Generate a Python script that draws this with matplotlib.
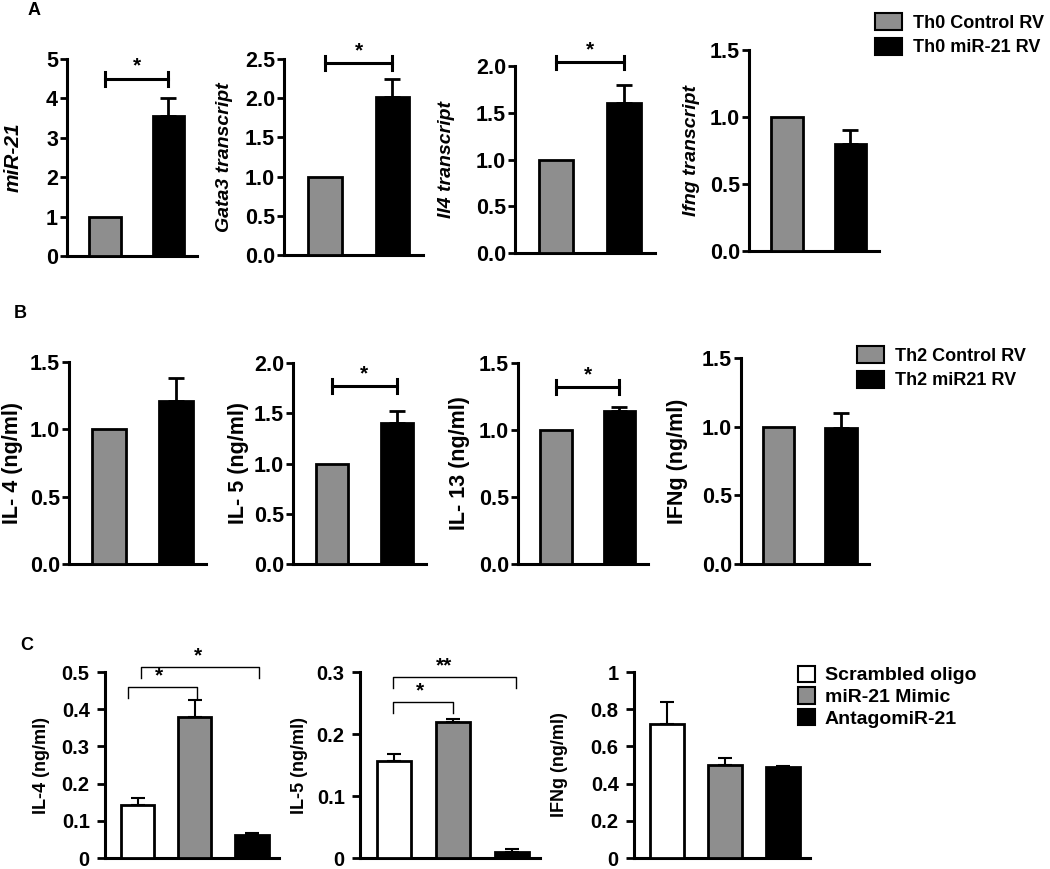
import numpy as np
import matplotlib
matplotlib.use("Agg")
import matplotlib.pyplot as plt
from matplotlib.patches import Patch

plt.rcParams['font.family'] = ['Liberation Sans', 'DejaVu Sans']
plt.rcParams['font.weight'] = 'bold'
plt.rcParams['axes.labelweight'] = 'bold'

W, H = 1050, 869
GRAY = '#8e8e8e'

# ---- panel A data ----
a_labels = ['miR-21', 'Gata3 transcript', 'Il4 transcript', 'Ifng transcript']
a_ctrl = [1.0, 1.0, 1.0, 1.0]
a_mir = [3.55, 2.02, 1.60, 0.80]
a_err = [0.45, 0.23, 0.20, 0.10]
a_ymax = [5, 2.5, 2.0, 1.5]
a_ticks = [[0, 1, 2, 3, 4, 5], [0, 0.5, 1.0, 1.5, 2.0, 2.5], [0, 0.5, 1.0, 1.5, 2.0], [0, 0.5, 1.0, 1.5]]
a_ticklabels = [['0', '1', '2', '3', '4', '5'], ['0.0', '0.5', '1.0', '1.5', '2.0', '2.5'],
                ['0.0', '0.5', '1.0', '1.5', '2.0'], ['0.0', '0.5', '1.0', '1.5']]
a_sig = [4.5, 2.45, 2.04, None]
a_legend = ['Th0 Control RV', 'Th0 miR-21 RV']

# ---- panel B data ----
b_labels = ['IL- 4 (ng/ml)', 'IL- 5 (ng/ml)', 'IL- 13 (ng/ml)', 'IFNg (ng/ml)']
b_ctrl = [1.0, 1.0, 1.0, 1.0]
b_mir = [1.21, 1.40, 1.14, 0.99]
b_err = [0.17, 0.12, 0.03, 0.11]
b_ymax = [1.5, 2.0, 1.5, 1.5]
b_ticks = [[0, 0.5, 1.0, 1.5], [0, 0.5, 1.0, 1.5, 2.0], [0, 0.5, 1.0, 1.5], [0, 0.5, 1.0, 1.5]]
b_sig = [None, 1.77, 1.32, None]
b_legend = ['Th2 Control RV', 'Th2 miR21 RV']

# ---- panel C data ----
c_labels = ['IL-4 (ng/ml)', 'IL-5 (ng/ml)', 'IFNg (ng/ml)']
c_vals = [[0.143, 0.38, 0.063], [0.157, 0.219, 0.009], [0.72, 0.50, 0.49]]
c_errs = [[0.017, 0.045, 0.005], [0.010, 0.005, 0.006], [0.12, 0.04, 0.005]]
c_ymax = [0.5, 0.3, 1.0]
c_ticks = [[0, 0.1, 0.2, 0.3, 0.4, 0.5], [0, 0.1, 0.2, 0.3], [0, 0.2, 0.4, 0.6, 0.8, 1.0]]
c_ticklabels = [['0', '0.1', '0.2', '0.3', '0.4', '0.5'], ['0', '0.1', '0.2', '0.3'],
                ['0', '0.2', '0.4', '0.6', '0.8', '1']]
# brackets: (x_left, x_right, y, text, text_x)
c_brackets = [[(-0.17, 1.03, 0.46, '*', 0.38), (0.06, 2.12, 0.513, '*', 1.05)],
              [(-0.02, 1.0, 0.252, '*', 0.45), (-0.02, 2.06, 0.292, '**', 0.85)],
              []]
c_legend = ['Scrambled oligo', 'miR-21 Mimic', 'AntagomiR-21']
c_colors = ['white', GRAY, 'black']

# axes boxes in pixels: (x_axis, x_end, y_top, y_zero), label right edge px, label size
a_boxes = [(67, 197, 59, 256), (284, 423, 59, 255), (515, 655, 66, 253), (749, 879, 50, 251)]
a_labx = [23, 233, 455, 700]
a_lsize = [15, 14, 14, 14]
b_boxes = [(69, 206, 362, 564), (293, 426, 363, 564), (518, 648, 363, 564), (741, 869, 358, 564)]
b_labx = [23, 249, 470, 688]
c_boxes = [(105, 279, 672, 858), (360, 540, 672, 858), (634, 810, 672, 858)]
c_labx = [50, 308, 568]

fig = plt.figure(figsize=(W / 100, H / 100), dpi=100)


def make_ax(box, labx, ylabel, italic=False, lsize=12, pad=1.5):
    x0, x1, yt, y0 = box
    ax = fig.add_axes([x0 / W, 1 - y0 / H, (x1 - x0) / W, (y0 - yt) / H])
    for s in ['top', 'right']:
        ax.spines[s].set_visible(False)
    for s in ['left', 'bottom']:
        ax.spines[s].set_linewidth(2.2)
    ax.tick_params(axis='x', bottom=False, labelbottom=False)
    ax.tick_params(axis='y', length=5, width=2, pad=pad)
    ax.set_ylabel(ylabel, fontsize=lsize, style='italic' if italic else 'normal')
    ax.yaxis.set_label_coords((labx - x0) / (x1 - x0), 0.5)
    return ax


def sig_bar(ax, y, ymax):
    ax.plot([0, 1], [y, y], color='black', lw=2.2, clip_on=False)
    for xx in [0, 1]:
        ax.plot([xx, xx], [y - 0.035 * ymax, y + 0.035 * ymax], color='black', lw=2.2, clip_on=False)
    ax.text(0.5, y + 0.015 * ymax, '*', ha='center', va='bottom', fontsize=15)


def two_bar(ax, ctrl, val, err, ymax, ticks, ticklabels=None):
    ax.bar([0, 1], [ctrl, val], width=0.5, color=[GRAY, 'black'], edgecolor='black',
           linewidth=2, zorder=3)
    ax.errorbar([1], [val], yerr=[[0], [err]], fmt='none', ecolor='black',
                elinewidth=2, capsize=6, capthick=2, zorder=2)
    ax.set_xlim(-0.6, 1.45)
    ax.set_ylim(0, ymax)
    ax.set_yticks(ticks)
    if ticklabels is None:
        ticklabels = ['%.1f' % t for t in ticks]
    ax.set_yticklabels(ticklabels, fontsize=15.5)


legend_kw = dict(loc='upper left', frameon=False, handlelength=1.5, handleheight=1.05,
                 handletextpad=0.6, labelspacing=0.35, borderpad=0)

# row A
for i in range(4):
    ax = make_ax(a_boxes[i], a_labx[i], a_labels[i], italic=True, lsize=a_lsize[i])
    two_bar(ax, a_ctrl[i], a_mir[i], a_err[i], a_ymax[i], a_ticks[i], a_ticklabels[i])
    if a_sig[i] is not None:
        sig_bar(ax, a_sig[i], a_ymax[i])
    if i == 3:
        handles = [Patch(facecolor=GRAY, edgecolor='black', lw=1.5),
                   Patch(facecolor='black', edgecolor='black', lw=1.5)]
        fig.legend(handles, a_legend, bbox_to_anchor=(866 / W, 1 - 4 / H),
                   prop={'weight': 'bold', 'size': 13}, **legend_kw)

# row B
for i in range(4):
    ax = make_ax(b_boxes[i], b_labx[i], b_labels[i], lsize=15.5)
    two_bar(ax, b_ctrl[i], b_mir[i], b_err[i], b_ymax[i], b_ticks[i])
    if b_sig[i] is not None:
        sig_bar(ax, b_sig[i], b_ymax[i])
    if i == 3:
        handles = [Patch(facecolor=GRAY, edgecolor='black', lw=1.5),
                   Patch(facecolor='black', edgecolor='black', lw=1.5)]
        fig.legend(handles, b_legend, bbox_to_anchor=(848 / W, 1 - 337 / H),
                   prop={'weight': 'bold', 'size': 13}, **legend_kw)

# row C
for i in range(3):
    ax = make_ax(c_boxes[i], c_labx[i], c_labels[i], lsize=13, pad=5)
    x = np.arange(3)
    ax.tick_params(axis='y', length=6)
    ax.bar(x, c_vals[i], width=0.58, color=c_colors, edgecolor='black', linewidth=2, zorder=3)
    ax.errorbar(x, c_vals[i], yerr=[[0, 0, 0], c_errs[i]], fmt='none', ecolor='black',
                elinewidth=1.5, capsize=5, capthick=1.5, zorder=2)
    ax.set_xlim(-0.57, 2.47)
    ax.set_ylim(0, c_ymax[i])
    ax.set_yticks(c_ticks[i])
    ax.set_yticklabels(c_ticklabels[i], fontsize=14.5)
    for xl, xr, y, txt, tx in c_brackets[i]:
        d = 0.06 * c_ymax[i]
        ax.plot([xl, xl, xr, xr], [y - d, y, y, y - d], color='black', lw=1, clip_on=False)
        ax.text(tx, y + 0.01 * c_ymax[i], txt, ha='center', va='bottom', fontsize=15)
    if i == 2:
        handles = [Patch(facecolor=c, edgecolor='black', lw=1.5) for c in c_colors]
        fig.legend(handles, c_legend, loc='upper left', bbox_to_anchor=(788 / W, 1 - 656 / H),
                   frameon=False, prop={'weight': 'bold', 'size': 14}, handlelength=0.9,
                   handleheight=0.9, handletextpad=0.5, labelspacing=0.15, borderpad=0)

# panel letters
fig.text(28 / W, 1 - 15 / H, 'A', fontsize=13)
fig.text(14 / W, 1 - 318 / H, 'B', fontsize=13)
fig.text(20 / W, 1 - 650 / H, 'C', fontsize=13)

fig.savefig('out.png', dpi=100)
